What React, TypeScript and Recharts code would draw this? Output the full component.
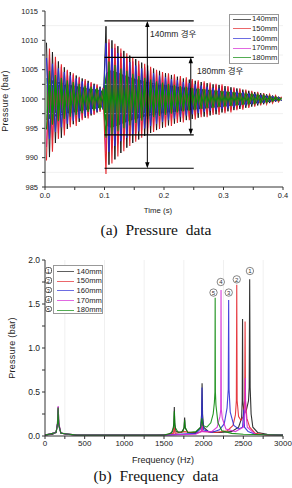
import {
  ComposedChart, LineChart, Line, Area, XAxis, YAxis, ReferenceLine, ReferenceDot,
} from 'recharts';

// ---------- (a) pressure data ----------
// peak amplitudes (bar above/below 1000) read every 0.005 s, starting at t = 0.0025 s
const TIME_START = 0.0025;
const TIME_STEP = 0.005;

const AMP_140 = [
  9.6, 9.9, 8.0, 7.5, 6.4, 6.6, 5.4, 5.1, 4.6, 4.3, 4.0, 3.9, 3.5, 3.2, 3.1, 2.8, 2.6, 2.3, 2.1, 1.8,
  12.4, 11.2, 10.0, 10.3, 9.0, 9.2, 8.2, 8.3, 7.4, 7.5, 6.8, 6.9, 6.2, 6.3, 5.7, 5.8, 5.2, 5.3, 4.8, 4.9,
  4.4, 4.5, 4.1, 4.2, 3.8, 3.9, 3.5, 3.6, 3.3, 3.4, 3.1, 3.2, 2.9, 3.0, 2.7, 2.8, 2.5, 2.6, 2.4, 2.3,
  2.2, 2.1, 2.0, 1.9, 1.8, 1.7, 1.6, 1.5, 1.4, 1.3, 1.2, 1.1, 1.0, 0.9, 0.8, 0.7, 0.6, 0.5, 0.4, 0.3,
];
const AMP_150 = [
  10.5, 8.6, 9.0, 7.2, 6.8, 5.9, 6.2, 5.0, 4.8, 4.4, 4.6, 3.8, 3.6, 3.4, 3.3, 2.9, 2.7, 2.5, 2.2, 1.9,
  12.8, 10.2, 11.0, 9.4, 9.8, 8.6, 8.9, 7.8, 8.0, 7.1, 7.3, 6.5, 6.6, 6.0, 6.1, 5.5, 5.6, 5.0, 5.1, 4.6,
  4.8, 4.4, 4.6, 4.2, 4.1, 3.9, 4.0, 3.7, 3.6, 3.4, 3.5, 3.2, 3.1, 3.0, 3.1, 2.8, 2.7, 2.6, 2.7, 2.5,
  2.4, 2.2, 2.3, 2.0, 1.9, 1.8, 1.8, 1.6, 1.5, 1.4, 1.3, 1.2, 1.1, 1.0, 0.9, 0.8, 0.7, 0.6, 0.5, 0.4,
];
const AMP_160 = [
  7.0, 6.8, 6.0, 5.6, 5.2, 4.8, 4.6, 4.2, 4.0, 3.7, 3.5, 3.3, 3.0, 2.9, 2.7, 2.5, 2.3, 2.1, 1.9, 1.7,
  9.5, 9.0, 8.6, 8.0, 7.8, 7.2, 7.0, 6.6, 6.3, 6.0, 5.7, 5.5, 5.2, 5.0, 4.8, 4.6, 4.4, 4.2, 4.0, 3.9,
  3.7, 3.6, 3.4, 3.3, 3.2, 3.0, 2.9, 2.8, 2.7, 2.6, 2.5, 2.4, 2.3, 2.2, 2.1, 2.0, 1.9, 1.9, 1.8, 1.7,
  1.6, 1.6, 1.5, 1.4, 1.3, 1.2, 1.2, 1.1, 1.0, 0.9, 0.9, 0.8, 0.7, 0.7, 0.6, 0.5, 0.5, 0.4, 0.3, 0.3,
];
const AMP_170 = [
  8.2, 7.5, 7.0, 6.2, 5.8, 5.5, 5.0, 4.8, 4.4, 4.1, 3.8, 3.6, 3.3, 3.1, 2.9, 2.7, 2.5, 2.3, 2.0, 1.8,
  9.2, 9.6, 8.4, 8.7, 7.6, 7.8, 6.9, 7.0, 6.3, 6.4, 5.8, 5.9, 5.3, 5.4, 4.9, 5.0, 4.5, 4.6, 4.2, 4.3,
  3.9, 4.0, 3.7, 3.8, 3.4, 3.5, 3.2, 3.3, 3.0, 3.1, 2.8, 2.9, 2.6, 2.7, 2.5, 2.5, 2.3, 2.4, 2.2, 2.2,
  2.1, 2.0, 1.9, 1.8, 1.7, 1.6, 1.5, 1.4, 1.3, 1.2, 1.1, 1.0, 0.9, 0.9, 0.8, 0.7, 0.6, 0.5, 0.4, 0.3,
];
const AMP_180 = [
  5.2, 4.8, 4.4, 4.1, 3.8, 3.6, 3.4, 3.2, 3.0, 2.9, 2.7, 2.6, 2.4, 2.3, 2.2, 2.1, 2.0, 1.9, 1.8, 1.7,
  6.6, 6.4, 6.1, 5.8, 5.5, 5.2, 5.0, 4.8, 4.5, 4.3, 4.1, 3.9, 3.7, 3.6, 3.4, 3.3, 3.1, 3.0, 2.9, 2.8,
  2.7, 2.6, 2.5, 2.4, 2.3, 2.2, 2.1, 2.1, 2.0, 1.9, 1.9, 1.8, 1.7, 1.7, 1.6, 1.6, 1.5, 1.5, 1.4, 1.4,
  1.3, 1.3, 1.2, 1.2, 1.1, 1.1, 1.0, 1.0, 0.9, 0.9, 0.8, 0.8, 0.7, 0.7, 0.6, 0.5, 0.4, 0.4, 0.3, 0.2,
];
// dense green core of the 180mm trace
const BAND_180 = [
  3.6, 3.4, 3.2, 3.0, 2.9, 2.8, 2.6, 2.5, 2.4, 2.3, 2.2, 2.1, 2.0, 1.9, 1.8, 1.7, 1.7, 1.6, 1.5, 1.4,
  4.4, 4.8, 4.9, 4.7, 4.5, 4.3, 4.1, 3.9, 3.7, 3.6, 3.4, 3.3, 3.2, 3.0, 2.9, 2.8, 2.7, 2.6, 2.6, 2.5,
  2.4, 2.3, 2.3, 2.2, 2.1, 2.0, 2.0, 1.9, 1.9, 1.8, 1.8, 1.7, 1.7, 1.6, 1.6, 1.5, 1.5, 1.4, 1.4, 1.3,
  1.3, 1.2, 1.2, 1.1, 1.1, 1.0, 1.0, 0.9, 0.9, 0.8, 0.8, 0.7, 0.65, 0.6, 0.5, 0.45, 0.4, 0.3, 0.25, 0.2,
];

const TIME_TICKS = [0, 0.05, 0.1, 0.15, 0.2, 0.25, 0.3, 0.35, 0.4];
const P_TICKS = [985, 987.5, 990, 992.5, 995, 997.5, 1000, 1002.5, 1005, 1007.5, 1010, 1012.5, 1015];
const P_GRID = [987.5, 992.5, 997.5, 1002.5, 1007.5, 1012.5];

// range markers drawn on the pressure plot
const RANGE_140 = [1013.3, 988.2];
const RANGE_180 = [1007.1, 993.9];

// ---------- (b) frequency data ----------
const SPEC_140 = [
  [0, 0.01], [100, 0.02], [140, 0.05], [155, 0.12], [162, 0.25], [166, 0.33], [170, 0.25], [178, 0.1], [200, 0.04],
  [260, 0.02], [400, 0.01], [1400, 0.01], [1560, 0.02], [1610, 0.05], [1624, 0.14], [1630, 0.33], [1636, 0.14],
  [1652, 0.05], [1720, 0.04], [1752, 0.09], [1760, 0.21], [1768, 0.09], [1800, 0.04], [1900, 0.04], [1962, 0.1],
  [1974, 0.25], [1980, 0.6], [1986, 0.25], [2000, 0.1], [2060, 0.05], [2200, 0.04], [2350, 0.05], [2440, 0.1],
  [2478, 0.2], [2486, 0.4], [2490, 1.33], [2494, 0.4], [2510, 0.25], [2540, 0.3], [2565, 0.4], [2574, 0.55],
  [2580, 1.78], [2586, 0.55], [2598, 0.25], [2620, 0.1], [2680, 0.04], [2800, 0.02], [3000, 0.01],
];
const SPEC_150 = [
  [0, 0.01], [140, 0.04], [158, 0.14], [165, 0.3], [172, 0.14], [200, 0.03], [400, 0.01], [1500, 0.01],
  [1620, 0.03], [1630, 0.1], [1640, 0.03], [1760, 0.05], [1900, 0.03], [1970, 0.05], [1980, 0.15], [1990, 0.05],
  [2150, 0.04], [2300, 0.06], [2370, 0.12], [2400, 0.24], [2412, 0.4], [2417, 1.72], [2422, 0.4], [2440, 0.22],
  [2470, 0.18], [2500, 0.22], [2517, 0.4], [2522, 1.3], [2527, 0.4], [2545, 0.2], [2580, 0.1], [2650, 0.03],
  [2800, 0.01], [3000, 0.01],
];
const SPEC_160 = [
  [0, 0.01], [140, 0.04], [158, 0.14], [165, 0.3], [172, 0.14], [200, 0.03], [400, 0.01], [1500, 0.01],
  [1900, 0.03], [1960, 0.08], [1974, 0.2], [1979, 0.55], [1984, 0.2], [2000, 0.07], [2100, 0.04], [2200, 0.07],
  [2260, 0.14], [2295, 0.32], [2310, 0.53], [2315, 1.545], [2320, 0.53], [2335, 0.27], [2380, 0.12], [2440, 0.08],
  [2490, 0.1], [2505, 0.3], [2515, 0.1], [2560, 0.05], [2650, 0.02], [3000, 0.01],
];
const SPEC_170 = [
  [0, 0.01], [140, 0.04], [158, 0.15], [166, 0.34], [174, 0.15], [200, 0.03], [400, 0.01], [1500, 0.01],
  [1900, 0.02], [1970, 0.05], [1976, 0.15], [1982, 0.05], [2100, 0.05], [2170, 0.1], [2205, 0.22], [2215, 0.3],
  [2219, 1.66], [2223, 0.3], [2235, 0.2], [2280, 0.08], [2400, 0.05], [2500, 0.1], [2520, 0.3], [2525, 0.66],
  [2530, 0.3], [2550, 0.1], [2650, 0.02], [3000, 0.01],
];
const SPEC_180 = [
  [0, 0.01], [140, 0.04], [158, 0.14], [165, 0.32], [172, 0.14], [200, 0.03], [400, 0.01], [1500, 0.01],
  [1590, 0.03], [1622, 0.1], [1630, 0.28], [1638, 0.1], [1680, 0.04], [1740, 0.05], [1754, 0.1], [1760, 0.18],
  [1766, 0.1], [1800, 0.04], [1900, 0.05], [1965, 0.1], [1977, 0.2], [1990, 0.12], [2040, 0.1], [2090, 0.15],
  [2120, 0.25], [2135, 0.38], [2142, 0.5], [2145, 1.57], [2148, 0.5], [2155, 0.35], [2180, 0.15], [2230, 0.06],
  [2350, 0.03], [2500, 0.02], [3000, 0.01],
];

const FREQ_TICKS = [0, 250, 500, 750, 1000, 1250, 1500, 1750, 2000, 2250, 2500, 2750, 3000];
const FREQ_GRID = [250, 750, 1250, 1750, 2250, 2750];
const AMP_TICKS = [0, 0.25, 0.5, 0.75, 1.0, 1.25, 1.5, 1.75, 2.0];

// circled numbers above the main peaks: [number, frequency, pressure]
const PEAK_MARKS = [
  [1, 2583, 1.875],
  [2, 2417, 1.78],
  [3, 2316, 1.63],
  [4, 2216, 1.75],
  [5, 2124, 1.63],
];

const NAMES = ['140mm', '150mm', '160mm', '170mm', '180mm'];
const COLORS = ['#1c1c1c', '#e3262c', '#2f2fd6', '#d42ad4', '#0c8a0c'];

const FONT = '"Liberation Sans", Arial, "Noto Sans CJK KR", sans-serif';

const pressureRows = AMP_140.map((_, k) => {
  const s = k % 2 === 0 ? 1 : -1;
  return {
    t: TIME_START + k * TIME_STEP,
    p140: 1000 + s * AMP_140[k],
    p150: 1000 - s * AMP_150[k],
    p160: 1000 + s * AMP_160[k],
    p170: 1000 - s * AMP_170[k],
    p180: 1000 - s * AMP_180[k],
    band: [1000 - BAND_180[k], 1000 + BAND_180[k]],
  };
});

const toRows = (spec: number[][]) => spec.map(([f, p]) => ({ f, p }));
const spectra = [SPEC_140, SPEC_150, SPEC_160, SPEC_170, SPEC_180].map(toRows);

const tickStyle = (size: number) => ({ fontSize: size, fill: '#222', fontFamily: FONT });

const DoubleArrow = (props: any) => {
  const { x1, y1, y2 } = props;
  const top = Math.min(y1, y2);
  const bottom = Math.max(y1, y2);
  return (
    <g>
      <line x1={x1} y1={top + 2} x2={x1} y2={bottom - 2} stroke="#000" strokeWidth={1} />
      <path d={`M${x1},${top} L${x1 - 2.2},${top + 6} L${x1 + 2.2},${top + 6} Z`} fill="#000" />
      <path d={`M${x1},${bottom} L${x1 - 2.2},${bottom - 6} L${x1 + 2.2},${bottom - 6} Z`} fill="#000" />
    </g>
  );
};

const NoteText = (text: string) => (props: any) => (
  <text x={props.cx} y={props.cy} dy="0.35em" fontSize={8.5} fontFamily={FONT} fill="#222">
    {text}
  </text>
);

const CircledNumber = (n: number) => (props: any) => (
  <g>
    <circle cx={props.cx} cy={props.cy} r={3.7} fill="#fff" stroke="#555" strokeWidth={0.7} />
    <text x={props.cx} y={props.cy} dy="0.36em" textAnchor="middle" fontSize={6} fontFamily={FONT} fill="#333">
      {n}
    </text>
  </g>
);

const VLabel = ({ text, cx, cy, size }: { text: string; cx: number; cy: number; size: number }) => (
  <div
    style={{
      position: 'absolute', left: cx - 50, top: cy - 6, width: 100, height: 12, lineHeight: '12px',
      textAlign: 'center', fontSize: size, fontFamily: FONT, color: '#222', transform: 'rotate(-90deg)',
      letterSpacing: 0.3,
    }}
  >
    {text}
  </div>
);

const HLabel = ({ text, cx, cy, size }: { text: string; cx: number; cy: number; size: number }) => (
  <div
    style={{
      position: 'absolute', left: cx - 50, top: cy - 6, width: 100, height: 12, lineHeight: '12px',
      textAlign: 'center', fontSize: size, fontFamily: FONT, color: '#222',
    }}
  >
    {text}
  </div>
);

const Caption = ({ text, top }: { text: string; top: number }) => (
  <div
    style={{
      position: 'absolute', left: 10, top, width: 292, textAlign: 'center', whiteSpace: 'pre',
      fontFamily: '"Liberation Serif", "Times New Roman", serif', fontSize: 15.5, lineHeight: '16px', color: '#111',
    }}
  >
    {text}
  </div>
);

const App = () => {
  return (
    <div style={{ position: 'absolute', left: 0, top: 0, width: 292, height: 488, background: '#fff', overflow: 'hidden' }}>
      {/* (a) pressure */}
      <div style={{ position: 'absolute', left: 0, top: 0 }}>
        <ComposedChart width={292} height={215} data={pressureRows} margin={{ top: 11, right: 9, bottom: 0, left: 0 }}>
          {P_GRID.map((y) => (
            <ReferenceLine key={y} y={y} stroke="#ececec" strokeWidth={0.8} />
          ))}
          <XAxis
            dataKey="t" type="number" domain={[0, 0.4]} ticks={TIME_TICKS} height={28}
            tickFormatter={(v) => (Math.round(v * 100) % 10 === 0 ? v.toFixed(1) : '')}
            tick={tickStyle(7.5)} tickSize={3} tickMargin={3} axisLine={{ stroke: '#333' }} tickLine={{ stroke: '#333' }}
          />
          <XAxis
            xAxisId="top" orientation="top" type="number" domain={[0, 0.4]} ticks={TIME_TICKS} height={0}
            tickFormatter={() => ''} tickSize={3} axisLine={{ stroke: '#333' }} tickLine={{ stroke: '#333' }}
          />
          <YAxis
            type="number" domain={[985, 1015]} ticks={P_TICKS} width={45} allowDataOverflow
            tickFormatter={(v) => (v % 5 === 0 ? String(v) : '')}
            tick={tickStyle(7.5)} tickSize={3} tickMargin={4} axisLine={{ stroke: '#333' }} tickLine={{ stroke: '#333' }}
          />
          <YAxis
            yAxisId="right" orientation="right" type="number" domain={[985, 1015]} ticks={P_TICKS} width={0}
            tickFormatter={() => ''} tickSize={3} axisLine={{ stroke: '#333' }} tickLine={{ stroke: '#333' }}
          />
          <Line dataKey="p140" type="linear" stroke={COLORS[0]} strokeWidth={1} dot={false} isAnimationActive={false} />
          <Line dataKey="p160" type="linear" stroke={COLORS[2]} strokeWidth={1} dot={false} isAnimationActive={false} />
          <Line dataKey="p170" type="linear" stroke={COLORS[3]} strokeWidth={1} dot={false} isAnimationActive={false} />
          <Line dataKey="p150" type="linear" stroke={COLORS[1]} strokeWidth={1.1} dot={false} isAnimationActive={false} />
          <Area dataKey="band" type="linear" stroke="none" fill={COLORS[4]} fillOpacity={1} isAnimationActive={false} />
          <Line dataKey="p180" type="linear" stroke={COLORS[4]} strokeWidth={1.1} dot={false} isAnimationActive={false} />

          {[...RANGE_140, ...RANGE_180].map((y) => (
            <ReferenceLine key={`r${y}`} segment={[{ x: 0.1, y }, { x: 0.25, y }]} stroke="#000" strokeWidth={1.2} />
          ))}
          <ReferenceLine
            segment={[{ x: 0.172, y: RANGE_140[0] }, { x: 0.172, y: RANGE_140[1] }]}
            shape={DoubleArrow}
          />
          <ReferenceLine
            segment={[{ x: 0.245, y: RANGE_180[0] }, { x: 0.245, y: RANGE_180[1] }]}
            shape={DoubleArrow}
          />
          <ReferenceDot x={0.1765} y={1011.1} r={0} shape={NoteText('140mm 경우')} />
          <ReferenceDot x={0.2555} y={1004.8} r={0} shape={NoteText('180mm 경우')} />
        </ComposedChart>
      </div>

      <div
        style={{
          position: 'absolute', left: 229, top: 14, width: 48, height: 48, border: '1px solid #999',
          background: '#fff', fontFamily: FONT,
        }}
      >
        {NAMES.map((name, i) => (
          <div key={name} style={{ position: 'absolute', left: 0, top: 4.3 + i * 9.67 - 5, height: 10, width: 48 }}>
            <div style={{ position: 'absolute', left: 2.5, top: 4.5, width: 18.5, height: 1, background: COLORS[i], opacity: 0.7 }} />
            <div style={{ position: 'absolute', left: 22, top: 0, fontSize: 7.6, lineHeight: '10px', color: '#222' }}>{name}</div>
          </div>
        ))}
      </div>

      <VLabel text="Pressure (bar)" cx={5} cy={101} size={9} />
      <HLabel text="Time (s)" cx={158} cy={211} size={7.8} />
      <Caption text="(a)  Pressure  data" top={221.5} />

      {/* (b) frequency */}
      <div style={{ position: 'absolute', left: 0, top: 240 }}>
        <LineChart width={292} height={230} margin={{ top: 20, right: 9, bottom: 6, left: 0 }}>
          {FREQ_GRID.map((x) => (
            <ReferenceLine key={x} x={x} stroke="#ececec" strokeWidth={0.8} />
          ))}
          <XAxis
            dataKey="f" type="number" domain={[0, 3000]} ticks={FREQ_TICKS} height={28} allowDuplicatedCategory={false}
            tickFormatter={(v) => (v % 500 === 0 ? String(v) : '')}
            tick={tickStyle(8)} tickSize={3} tickMargin={1} axisLine={{ stroke: '#333' }} tickLine={{ stroke: '#333' }}
          />
          <XAxis
            xAxisId="top" orientation="top" type="number" domain={[0, 3000]} ticks={FREQ_TICKS} height={0}
            tickFormatter={() => ''} tickSize={3} axisLine={{ stroke: '#333' }} tickLine={{ stroke: '#333' }}
          />
          <YAxis
            dataKey="p" type="number" domain={[0, 2]} ticks={AMP_TICKS} width={45} allowDataOverflow
            tickFormatter={(v) => (Math.round(v * 100) % 50 === 0 ? v.toFixed(1) : '')}
            tick={tickStyle(8.5)} tickSize={3} tickMargin={2} axisLine={{ stroke: '#333' }} tickLine={{ stroke: '#333' }}
          />
          <YAxis
            yAxisId="right" orientation="right" type="number" domain={[0, 2]} ticks={AMP_TICKS} width={0}
            tickFormatter={() => ''} tickSize={3} axisLine={{ stroke: '#333' }} tickLine={{ stroke: '#333' }}
          />
          {spectra.map((rows, i) => (
            <Line
              key={NAMES[i]} data={rows} dataKey="p" type="linear" stroke={COLORS[i]} strokeWidth={1.1}
              dot={false} isAnimationActive={false} opacity={0.9}
            />
          ))}
          {PEAK_MARKS.map(([n, f, p]) => (
            <ReferenceDot key={n} x={f} y={p} r={0} shape={CircledNumber(n)} />
          ))}
        </LineChart>
      </div>

      <div
        style={{
          position: 'absolute', left: 52.5, top: 265, width: 48, height: 47, border: '1px solid #999',
          background: '#fff', fontFamily: FONT,
        }}
      >
        {NAMES.map((name, i) => (
          <div key={name} style={{ position: 'absolute', left: 0, top: 5.7 + i * 9.6 - 5, height: 10, width: 48 }}>
            <div style={{ position: 'absolute', left: 3, top: 4.5, width: 17, height: 1, background: COLORS[i], opacity: 0.7 }} />
            <div style={{ position: 'absolute', left: 23, top: 0, fontSize: 7.6, lineHeight: '10px', color: '#222' }}>{name}</div>
          </div>
        ))}
      </div>
      {NAMES.map((name, i) => (
        <div
          key={`c${name}`}
          style={{
            position: 'absolute', left: 45, top: 267.4 + i * 9.6, width: 6.6, height: 6.6, borderRadius: 2.5,
            border: '0.7px solid #555', background: '#fff', fontFamily: FONT, fontSize: 5.6, lineHeight: '6.6px',
            textAlign: 'center', color: '#333', boxSizing: 'border-box',
          }}
        >
          {i + 1}
        </div>
      ))}

      <VLabel text="Pressure (bar)" cx={11.5} cy={348} size={9} />
      <HLabel text="Frequency (Hz)" cx={163} cy={460} size={9} />
      <Caption text="(b)  Frequency  data" top={468} />
    </div>
  );
};

export default App;
